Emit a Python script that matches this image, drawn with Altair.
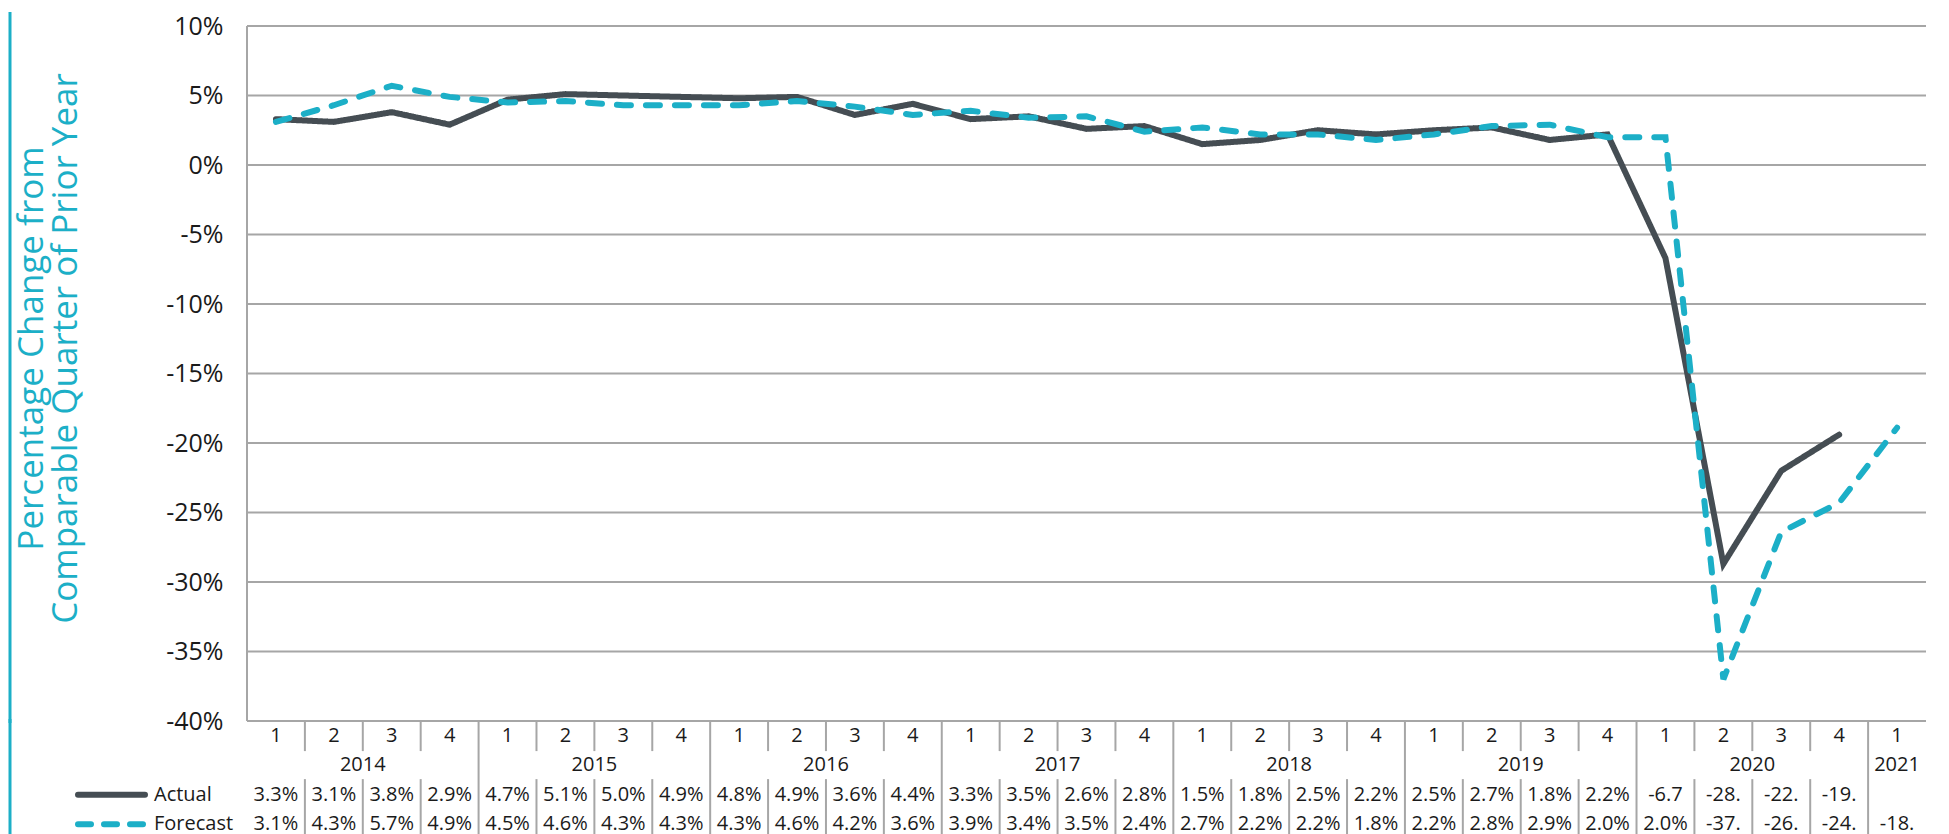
import altair as alt
import pandas as pd

# ---------------- data ----------------
quarter_labels = ["1", "2", "3", "4"] * 7 + ["1"]
year_labels = ([2014] * 4 + [2015] * 4 + [2016] * 4 + [2017] * 4 +
               [2018] * 4 + [2019] * 4 + [2020] * 4 + [2021])
actual = [3.3, 3.1, 3.8, 2.9,
          4.7, 5.1, 5.0, 4.9,
          4.8, 4.9, 3.6, 4.4,
          3.3, 3.5, 2.6, 2.8,
          1.5, 1.8, 2.5, 2.2,
          2.5, 2.7, 1.8, 2.2,
          -6.7, -28.7, -22.0, -19.4,
          None]
forecast = [3.1, 4.3, 5.7, 4.9,
            4.5, 4.6, 4.3, 4.3,
            4.3, 4.6, 4.2, 3.6,
            3.9, 3.4, 3.5, 2.4,
            2.7, 2.2, 2.2, 1.8,
            2.2, 2.8, 2.9, 2.0,
            2.0, -37.0, -26.4, -24.3,
            -18.9]
series_names = ["Actual", "Forecast"]
y_ticks = list(range(-40, 11, 5))
y_title = ["Percentage Change from", "Comparable Quarter of Prior Year"]

# ---------------- styles ----------------
ACTUAL_COLOR = "#454d53"
TEAL = "#1cafc7"
GRID = "#a6a6a6"
TEXT = "#1a1a1a"
FONT = "Open Sans"

n = len(quarter_labels)
idx = list(range(n))

lines_df = pd.DataFrame({
    "i": idx + idx,
    "series": [series_names[0]] * n + [series_names[1]] * n,
    "value": actual + forecast,
}).dropna()

xs = alt.Scale(domain=[-0.5, n - 0.5], nice=False, zero=False)
ys = alt.Scale(domain=[-40, 10], nice=False, zero=False)

yaxis = alt.Axis(
    values=y_ticks, labelExpr="datum.value + '%'", labelFontSize=25,
    labelFont=FONT, labelColor=TEXT, labelPadding=24, ticks=False,
    domain=False, grid=False,
    title=y_title, titleFont=FONT, titleFontSize=35, titleFontWeight="normal",
    titleColor=TEAL, titleAngle=-90, titleX=-205, titleY=322,
    titleAlign="center", titleBaseline="alphabetic", titleLineHeight=34,
)

W = 1679
H_TOP = 695
H_TAB = 118
NO_VIEW = alt.ViewBackground(stroke="transparent", strokeWidth=0)

grid_df = pd.DataFrame({"tick": y_ticks})
grid = alt.Chart(grid_df).mark_rule(color=GRID, strokeWidth=2).encode(
    y=alt.Y("tick:Q", scale=ys, axis=yaxis),
    x=alt.value(0), x2=alt.value(W),
)
domain_line = alt.Chart(pd.DataFrame({"a": [0]})).mark_rule(
    color=GRID, strokeWidth=2
).encode(x=alt.value(0), y=alt.value(0), y2=alt.value(H_TOP))

lines = alt.Chart(lines_df).mark_line(strokeWidth=6, strokeCap="round").encode(
    x=alt.X("i:Q", scale=xs, axis=None),
    y=alt.Y("value:Q", scale=ys, axis=yaxis),
    color=alt.Color("series:N", legend=None,
                    scale=alt.Scale(domain=series_names,
                                    range=[ACTUAL_COLOR, TEAL])),
    strokeDash=alt.StrokeDash("series:N", legend=None,
                              scale=alt.Scale(domain=series_names,
                                              range=[[1, 0], [14, 15]])),
)
edge_top = alt.Chart(pd.DataFrame({"a": [0]})).mark_rule(
    color=TEAL, strokeWidth=3
).encode(x=alt.value(-237), y=alt.value(-14), y2=alt.value(H_TOP + 2))

top = alt.layer(edge_top, grid, domain_line, lines).properties(
    width=W, height=H_TOP, view=NO_VIEW
)

# ---------------- table ----------------
ry = alt.Scale(domain=[0, 4], reverse=True, nice=False, zero=False)

q_df = pd.DataFrame({"i": idx, "label": quarter_labels, "row": 0.5})
yr_df = (pd.DataFrame({"i": idx, "year": year_labels})
         .groupby("year", as_index=False)["i"].mean())
yr_df["label"] = yr_df["year"].astype(str)
yr_df["row"] = 1.5


def fmt(v):
    return ("%.1f%%" % v)[:4]


val_rows = []
for k, (a, f) in enumerate(zip(actual, forecast)):
    if a is not None:
        val_rows.append({"i": k, "label": fmt(a), "row": 2.5})
    if f is not None:
        val_rows.append({"i": k, "label": fmt(f), "row": 3.5})
val_df = pd.DataFrame(val_rows)

sep_rows = []
for k in range(n - 1):
    b = k + 0.5
    if year_labels[k] != year_labels[k + 1]:
        sep_rows.append({"x": b, "y0": 0, "y1": 4})
    else:
        sep_rows.append({"x": b, "y0": 0, "y1": 1.02})
        sep_rows.append({"x": b, "y0": 1.97, "y1": 4})
sep_df = pd.DataFrame(sep_rows)

seps = alt.Chart(sep_df).mark_rule(color=GRID, strokeWidth=2).encode(
    x=alt.X("x:Q", scale=xs, axis=None),
    y=alt.Y("y0:Q", scale=ry, axis=None),
    y2="y1:Q",
)


def text_layer(df):
    return alt.Chart(df).mark_text(
        font=FONT, fontSize=20, color=TEXT, baseline="middle", align="center"
    ).encode(
        x=alt.X("i:Q", scale=xs, axis=None),
        y=alt.Y("row:Q", scale=ry, axis=None),
        text="label:N",
    )


leg_df = pd.DataFrame({"label": series_names, "row": [2.5, 3.5]})
leg_actual = alt.Chart(leg_df.iloc[[0]]).mark_rule(
    color=ACTUAL_COLOR, strokeWidth=6, strokeCap="round"
).encode(x=alt.value(-169), x2=alt.value(-102),
         y=alt.Y("row:Q", scale=ry, axis=None))
leg_fc = alt.Chart(leg_df.iloc[[1]]).mark_rule(
    color=TEAL, strokeWidth=6, strokeCap="round", strokeDash=[13, 13]
).encode(x=alt.value(-169), x2=alt.value(-102),
         y=alt.Y("row:Q", scale=ry, axis=None))
leg_text = alt.Chart(leg_df).mark_text(
    font=FONT, fontSize=20, color=TEXT, baseline="middle", align="left"
).encode(x=alt.value(-93), y=alt.Y("row:Q", scale=ry, axis=None),
         text="label:N")
edge_bot = alt.Chart(pd.DataFrame({"a": [0]})).mark_rule(
    color=TEAL, strokeWidth=3
).encode(x=alt.value(-237), y=alt.value(-2), y2=alt.value(H_TAB + 10))

bottom = alt.layer(
    edge_bot, seps, text_layer(q_df), text_layer(yr_df), text_layer(val_df),
    leg_actual, leg_fc, leg_text,
).properties(width=W, height=H_TAB, view=NO_VIEW)

chart = alt.vconcat(top, bottom, spacing=0, bounds="flush").properties(
    padding={"left": 0, "top": 2, "right": 5, "bottom": 0}
).configure_view(strokeWidth=0, stroke="transparent")

chart.save("out.html", embed_options={"renderer": "svg", "actions": False})
